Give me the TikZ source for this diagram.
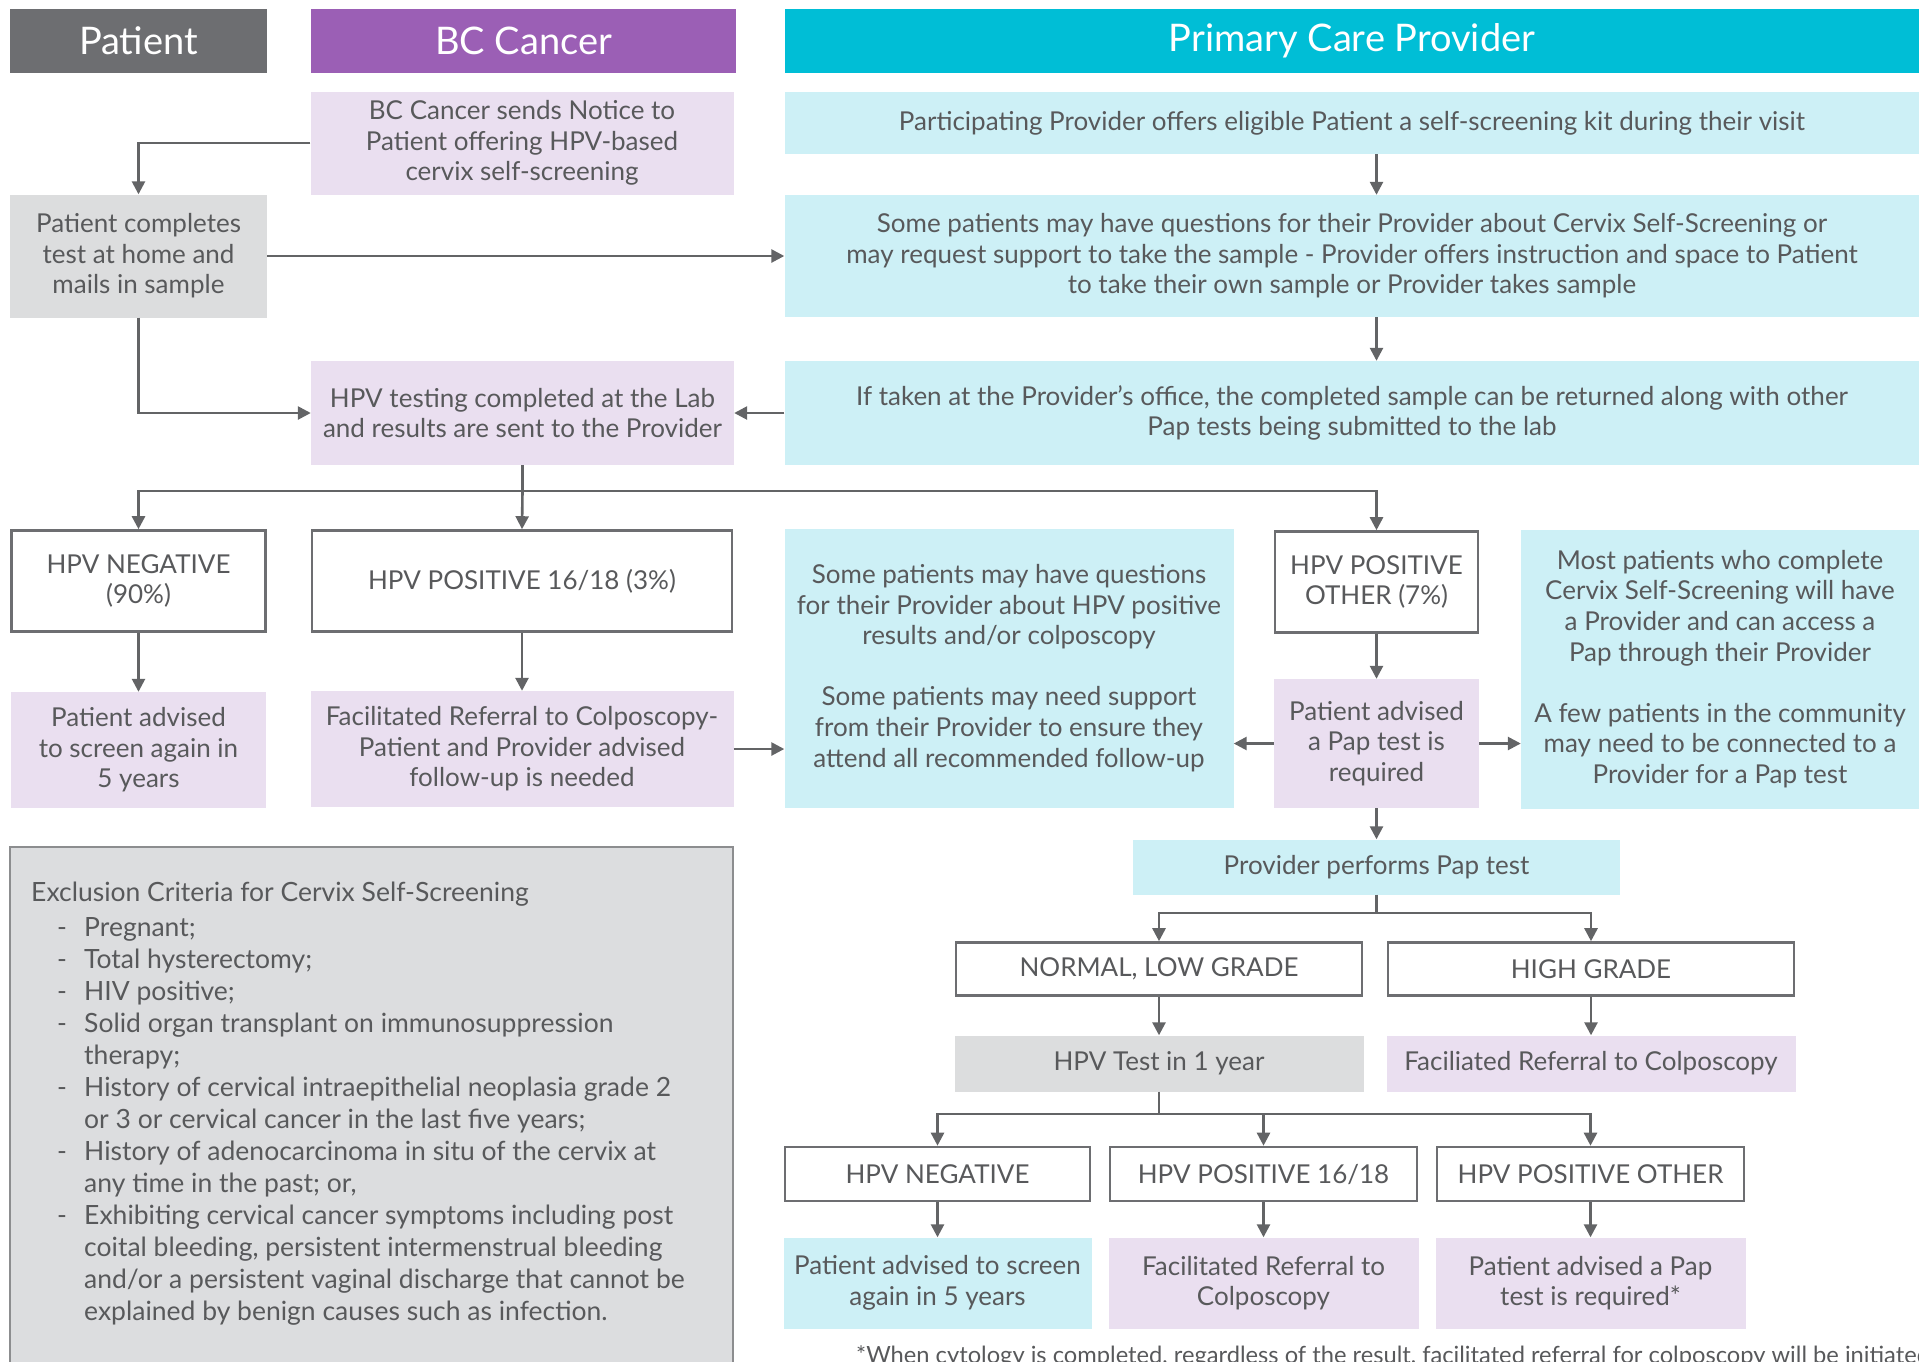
\documentclass[tikz,border=0pt]{standalone}
\usepackage{fontspec}
\setmainfont{Lato}
\usepackage{tikz}
\usetikzlibrary{arrows.meta, positioning}
\definecolor{lanegray}{RGB}{109,110,113}
\definecolor{lanepurple}{RGB}{155,95,181}
\definecolor{lanecyan}{RGB}{0,190,214}
\definecolor{softpurple}{RGB}{234,223,240}
\definecolor{softcyan}{RGB}{205,240,246}
\definecolor{softgray}{RGB}{220,221,222}
\definecolor{inkgray}{RGB}{88,89,91}
\definecolor{wiregray}{RGB}{99,100,102}
\definecolor{exclgray}{RGB}{220,221,223}
\definecolor{exclline}{RGB}{140,141,143}
\newcommand{\bodysize}{\fontsize{26pt}{30.6pt}\selectfont}
\newcommand{\lanesize}{\fontsize{38pt}{44pt}\selectfont}
\newcommand{\dashitem}{\makebox[53pt][l]{\hspace{26pt}-}}
\newcommand{\wrapline}{\makebox[53pt]{}}
\tikzset{
  box/.style={inner sep=0pt, align=center, text=inkgray, font=\bodysize},
  lane/.style={box, text=white, font=\lanesize, minimum height=64pt},
  pinkbox/.style={box, fill=softpurple},
  cyanbox/.style={box, fill=softcyan},
  greybox/.style={box, fill=softgray},
  result/.style={box, fill=white, draw=lanegray, line width=2.6pt},
  flow/.style={draw=wiregray, line width=2.6pt, -{Triangle[length=13pt,width=13pt]}},
}

\begin{document}
\begin{tikzpicture}[x=1pt, y=-1pt]
  \useasboundingbox (0,0) rectangle (1919,1361);

  \node[lane, fill=lanegray, minimum width=257pt] (hpatient) at (138.5,41) {Patient};
  \node[lane, fill=lanepurple, minimum width=425pt] (hbc) at (523.5,41) {BC Cancer};
  \node[lane, fill=lanecyan, minimum width=1135pt] (hpcp) at (1352,41) {Primary Care Provider};

  \node[pinkbox, minimum width=423pt, minimum height=103pt] (notice) at (522,143) {BC Cancer sends Notice to\\Patient offering HPV-based\\cervix self-screening};
  \node[cyanbox, minimum width=1135pt, minimum height=62pt] (offer) at (1352,123) {Participating Provider offers eligible Patient a self-screening kit during their visit};
  \node[greybox, minimum width=257pt, minimum height=123pt] (home) at (138.5,256) {Patient completes\\test at home and\\mails in sample};
  \node[cyanbox, minimum width=1135pt, minimum height=122pt] (askkit) at (1352,256) {Some patients may have questions for their Provider about Cervix Self-Screening or\\may request support to take the sample - Provider offers instruction and space to Patient\\to take their own sample or Provider takes sample};
  \node[pinkbox, minimum width=423pt, minimum height=104pt] (lab) at (522.5,413) {HPV testing completed at the Lab\\and results are sent to the Provider};
  \node[cyanbox, minimum width=1135pt, minimum height=104pt] (returned) at (1352,413) {If taken at the Provider’s office, the completed sample can be returned along with other\\Pap tests being submitted to the lab};

  \node[result, minimum width=254pt, minimum height=101pt] (neg) at (138.5,581) {HPV NEGATIVE\\(90\%)};
  \node[result, minimum width=420pt, minimum height=101pt] (pos) at (522,581) {HPV POSITIVE 16/18 (3\%)};
  \node[cyanbox, minimum width=449pt, minimum height=279pt] (askhpv) at (1009,668) {Some patients may have questions\\for their Provider about HPV positive\\results and/or colposcopy\\[30.6pt]Some patients may need support\\from their Provider to ensure they\\attend all recommended follow-up};
  \node[result, minimum width=203pt, minimum height=101pt] (other) at (1376.5,582) {HPV POSITIVE\\OTHER (7\%)};
  \node[cyanbox, minimum width=398pt, minimum height=279pt] (most) at (1720,669) {Most patients who complete\\Cervix Self-Screening will have\\a Provider and can access a\\Pap through their Provider\\[30.6pt]A few patients in the community\\may need to be connected to a\\Provider for a Pap test};

  \node[pinkbox, minimum width=255pt, minimum height=116pt] (negadv) at (138.5,750) {Patient advised\\to screen again in\\5 years};
  \node[pinkbox, minimum width=423pt, minimum height=116pt] (posref) at (522,749) {Facilitated Referral to Colposcopy-\\Patient and Provider advised\\follow-up is needed};
  \node[pinkbox, minimum width=205pt, minimum height=129pt] (papreq) at (1376.5,743.5) {Patient advised\\a Pap test is\\required};

  \node[draw=exclline, fill=exclgray, line width=2pt, minimum width=723pt, minimum height=560pt, anchor=north west] (excl) at (9,846) {};
  \node[box, anchor=north west, align=left, font=\fontsize{26.5pt}{32pt}\selectfont] (criteria) at (31,882) {Exclusion Criteria for Cervix Self-Screening\\[3pt]
    \dashitem Pregnant;\\
    \dashitem Total hysterectomy;\\
    \dashitem HIV positive;\\
    \dashitem Solid organ transplant on immunosuppression\\
    \wrapline therapy;\\
    \dashitem History of cervical intraepithelial neoplasia grade 2\\
    \wrapline or 3 or cervical cancer in the last five years;\\
    \dashitem History of adenocarcinoma in situ of the cervix at\\
    \wrapline any time in the past; or,\\
    \dashitem Exhibiting cervical cancer symptoms including post\\
    \wrapline coital bleeding, persistent intermenstrual bleeding\\
    \wrapline and/or a persistent vaginal discharge that cannot be\\
    \wrapline explained by benign causes such as infection.};

  \node[cyanbox, minimum width=487pt, minimum height=55pt] (provpap) at (1376.5,867) {Provider performs Pap test};
  \node[result, minimum width=406pt, minimum height=53pt] (normal) at (1159,969) {NORMAL, LOW GRADE};
  \node[result, minimum width=406pt, minimum height=53pt] (high) at (1591,969) {HIGH GRADE};
  \node[greybox, minimum width=409pt, minimum height=56pt] (retest) at (1159,1063.5) {HPV Test in 1 year};
  \node[pinkbox, minimum width=409pt, minimum height=56pt] (highref) at (1591,1063.5) {Faciliated Referral to Colposcopy};
  \node[result, minimum width=305pt, minimum height=54pt] (neg2) at (937.5,1174) {HPV NEGATIVE};
  \node[result, minimum width=307pt, minimum height=54pt] (pos2) at (1263.5,1174) {HPV POSITIVE 16/18};
  \node[result, minimum width=307pt, minimum height=54pt] (oth2) at (1590.5,1174) {HPV POSITIVE OTHER};
  \node[cyanbox, minimum width=308pt, minimum height=91pt] (negadv2) at (937.5,1283) {Patient advised to screen\\again in 5 years};
  \node[pinkbox, minimum width=310pt, minimum height=91pt] (posref2) at (1263.5,1283) {Facilitated Referral to\\Colposcopy};
  \node[pinkbox, minimum width=310pt, minimum height=91pt] (papreq2) at (1590.5,1283) {Patient advised a Pap\\test is required*};
  \node[box, anchor=west, font=\fontsize{23.7pt}{28pt}\selectfont] (footnote) at (856,1357) {*When cytology is completed, regardless of the result, facilitated referral for colposcopy will be initiated};

  \coordinate (bar1) at (0,491);
  \coordinate (bar2) at (0,913);
  \coordinate (bar3) at (0,1114);

  \draw[flow] (notice.west) -| (home.north);
  \draw[flow] (home.east) -- (askkit.west);
  \draw[flow] (offer.south -| other) -- (askkit.north -| other);
  \draw[flow] (askkit.south -| other) -- (returned.north -| other);
  \draw[flow] (home.south) |- (lab.west);
  \draw[flow] (returned.west) -- (lab.east);
  \draw[flow] (lab.south) -- (lab.south |- bar1) -| (neg.north);
  \draw[flow] (lab.south |- bar1) -- (pos.north);
  \draw[flow] (lab.south |- bar1) -| (other.north);
  \draw[flow] (neg.south) -- (negadv.north);
  \draw[flow] (pos.south) -- (posref.north);
  \draw[flow] (posref.east) -- (posref.east -| askhpv.west);
  \draw[flow] (other.south) -- (papreq.north);
  \draw[flow] (papreq.west) -- (papreq.west -| askhpv.east);
  \draw[flow] (papreq.east) -- (papreq.east -| most.west);
  \draw[flow] (papreq.south) -- (provpap.north);
  \draw[flow] (provpap.south) -- (provpap.south |- bar2) -| (normal.north);
  \draw[flow] (provpap.south |- bar2) -| (high.north);
  \draw[flow] (normal.south) -- (retest.north);
  \draw[flow] (high.south) -- (highref.north);
  \draw[flow] (retest.south) -- (retest.south |- bar3) -| (neg2.north);
  \draw[flow] (retest.south |- bar3) -| (pos2.north);
  \draw[flow] (retest.south |- bar3) -| (oth2.north);
  \draw[flow] (neg2.south) -- (negadv2.north);
  \draw[flow] (pos2.south) -- (posref2.north);
  \draw[flow] (oth2.south) -- (papreq2.north);
\end{tikzpicture}
\end{document}
